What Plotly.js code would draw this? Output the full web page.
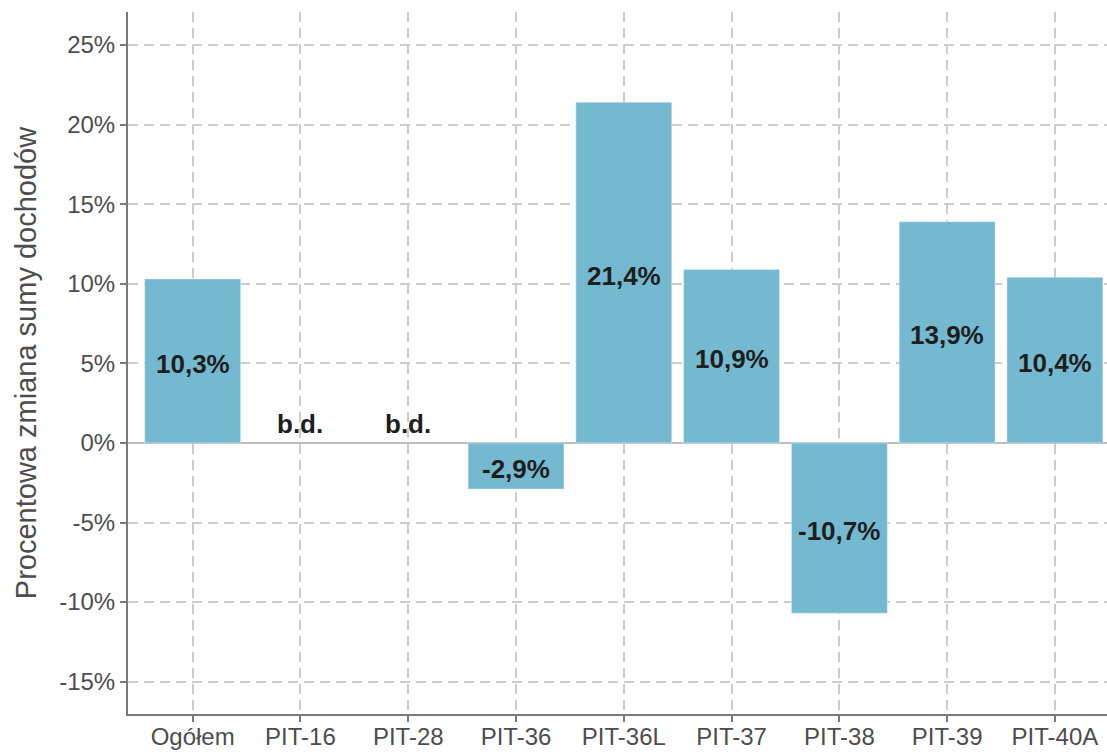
<!DOCTYPE html>
<html>
<head>
<meta charset="utf-8">
<script src="https://cdn.plot.ly/plotly-3.0.1.min.js"></script>
<style>html,body{margin:0;padding:0;background:#fff;}#chart{width:1107px;height:752px;}</style>
</head>
<body>
<div id="chart"></div>
<script>
const categories = ["Ogółem","PIT-16","PIT-28","PIT-36","PIT-36L","PIT-37","PIT-38","PIT-39","PIT-40A"];
const values = [10.3, null, null, -2.9, 21.4, 10.9, -10.7, 13.9, 10.4];
const labels = ["10,3%","b.d.","b.d.","-2,9%","21,4%","10,9%","-10,7%","13,9%","10,4%"];
const tickVals = [-15,-10,-5,0,5,10,15,20,25];
const tickText = ["-15%","-10%","-5%","0%","5%","10%","15%","20%","25%"];
const noDataLabelY = 1.2;

const labelY = values.map(v => v === null ? noDataLabelY : v / 2);

const bars = {
  type: 'bar', x: categories, y: values,
  marker: {color: '#74B9D0', line: {color: '#e6f2f6', width: 0.5}},
  hoverinfo: 'skip', cliponaxis: false
};
const annotations = categories.map((c, i) => ({
  x: c, y: labelY[i], xref: 'x', yref: 'y', text: labels[i], showarrow: false,
  yshift: values[i] === null ? 0 : -3, xanchor: 'center', yanchor: 'middle',
  font: {family: 'Liberation Sans, Arial, sans-serif', size: 26, color: '#1e1e1e', weight: 'bold'}
}));
const layout = {
  width: 1107, height: 752,
  margin: {l: 128, r: 0, t: 12, b: 38},
  paper_bgcolor: '#fff', plot_bgcolor: '#fff',
  showlegend: false, bargap: 0.11,
  font: {family: 'Liberation Sans, Arial, sans-serif', size: 24, color: '#4d4d4d'},
  annotations: annotations,
  xaxis: {
    type: 'category', range: [-0.6, 8.483],
    showline: true, linecolor: '#7a7a7a', linewidth: 2,
    ticks: 'outside', ticklen: 6, tickcolor: '#7a7a7a', tickwidth: 2,
    ticklabelstandoff: -6,
    showgrid: true, gridcolor: '#cccccc', gridwidth: 2, griddash: '10px,6px',
    tickfont: {size: 24, color: '#4d4d4d'}, fixedrange: true
  },
  yaxis: {
    range: [-17.03, 27.07],
    tickvals: tickVals, ticktext: tickText,
    showline: true, linecolor: '#7a7a7a', linewidth: 2,
    ticks: 'outside', ticklen: 6, tickcolor: '#7a7a7a', tickwidth: 2,
    showgrid: true, gridcolor: '#cccccc', gridwidth: 2, griddash: '10px,6px',
    zeroline: true, zerolinecolor: '#bdbdbd', zerolinewidth: 2,
    tickfont: {size: 24, color: '#4d4d4d'},
    title: {text: 'Procentowa zmiana sumy dochodów', font: {size: 29, color: '#4d4d4d'}, standoff: 14},
    fixedrange: true
  }
};
Plotly.newPlot('chart', [bars], layout, {displayModeBar: false, staticPlot: true});
</script>
</body>
</html>
